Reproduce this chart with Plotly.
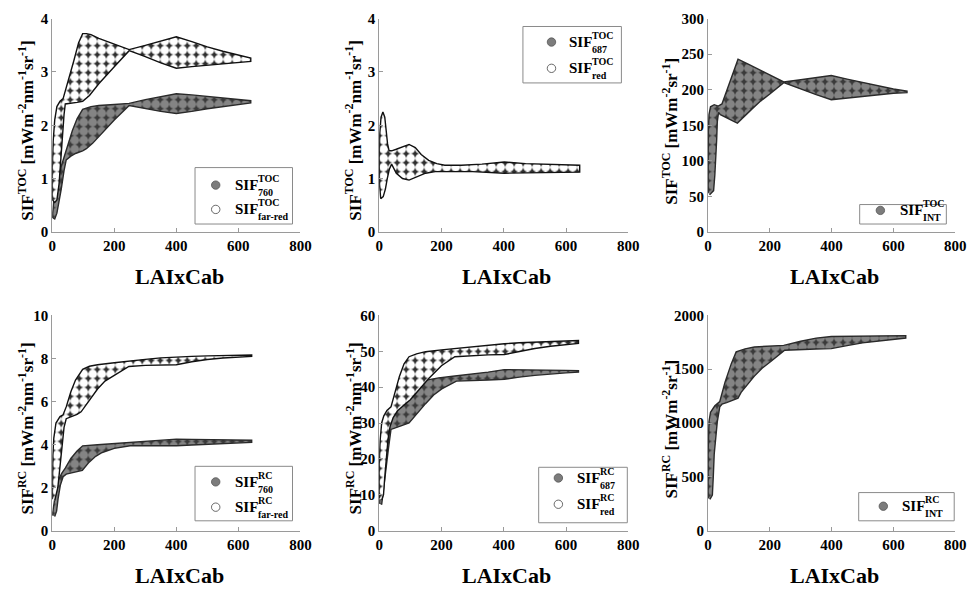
import plotly.graph_objects as go

W, H = 979, 594

# ---------------- data ----------------
x_ticks = [0, 200, 400, 600, 800]

# Panel 1: SIF TOC, 760 (gray) and far-red (white)
p1_760_up_x = [0, 2, 6, 12, 20, 30, 38, 50, 65, 80, 98, 125, 150, 200, 248, 300, 350, 400, 450, 500, 550, 600, 640]
p1_760_up_y = [0.27, 0.45, 0.65, 0.85, 1.05, 1.25, 1.4, 1.62, 1.9, 2.12, 2.3, 2.35, 2.37, 2.39, 2.41, 2.48, 2.54, 2.59, 2.57, 2.54, 2.51, 2.48, 2.46]
p1_760_lo_x = [0, 8, 15, 22, 29, 38, 45, 60, 75, 98, 110, 130, 160, 200, 248, 300, 350, 400, 450, 500, 550, 600, 640]
p1_760_lo_y = [0.27, 0.24, 0.35, 0.55, 0.8, 1.15, 1.35, 1.42, 1.47, 1.52, 1.56, 1.66, 1.84, 2.1, 2.37, 2.32, 2.26, 2.22, 2.26, 2.31, 2.35, 2.39, 2.42]
p1_fr_up_x = [0, 0, 3, 8, 15, 25, 35, 45, 55, 70, 85, 98, 110, 125, 150, 200, 248, 300, 350, 400, 450, 500, 550, 600, 640]
p1_fr_up_y = [0.6, 1.2, 1.7, 2.1, 2.35, 2.45, 2.5, 2.7, 2.92, 3.22, 3.55, 3.72, 3.72, 3.7, 3.63, 3.52, 3.42, 3.5, 3.58, 3.66, 3.57, 3.47, 3.39, 3.31, 3.26]
p1_fr_lo_x = [0, 8, 15, 22, 28, 33, 38, 42, 60, 80, 98, 120, 150, 200, 248, 300, 350, 400, 450, 500, 550, 600, 640]
p1_fr_lo_y = [0.6, 0.55, 0.6, 0.9, 1.3, 1.8, 2.2, 2.4, 2.42, 2.43, 2.45, 2.56, 2.78, 3.1, 3.4, 3.29, 3.17, 3.07, 3.1, 3.13, 3.16, 3.18, 3.2]

# Panel 2: SIF TOC, 687 (gray, hidden under red) and red (white)
p2_red_up_x = [5, 1, 0, 2, 6, 12, 18, 22, 27, 32, 40, 55, 75, 96, 116, 135, 159, 185, 211, 264, 330, 402, 470, 550, 644]
p2_red_up_y = [0.62, 0.9, 1.4, 1.85, 2.15, 2.25, 2.15, 1.9, 1.65, 1.52, 1.52, 1.55, 1.6, 1.64, 1.58, 1.45, 1.34, 1.28, 1.25, 1.25, 1.27, 1.31, 1.28, 1.26, 1.25]
p2_red_lo_x = [5, 13, 20, 26, 33, 40, 55, 75, 96, 120, 149, 180, 211, 300, 402, 500, 644]
p2_red_lo_y = [0.62, 0.66, 0.8, 1.0, 1.18, 1.27, 1.1, 1.0, 0.97, 1.03, 1.1, 1.13, 1.14, 1.13, 1.1, 1.11, 1.12]

# Panel 3: SIF TOC, INT (gray)
p3_int_up_x = [0, 0, 1, 3, 8, 20, 33, 45, 60, 75, 97, 130, 170, 210, 245, 300, 350, 399, 450, 500, 550, 600, 644]
p3_int_up_y = [55, 100, 140, 165, 176, 179, 177, 180, 198, 216, 243, 236, 227, 219, 211, 214, 217, 220, 215, 210, 205, 201, 198]
p3_int_lo_x = [5, 18, 22, 25, 28, 30, 34, 40, 60, 80, 95, 110, 140, 170, 200, 245, 300, 350, 399, 450, 500, 550, 600, 644]
p3_int_lo_y = [52, 58, 80, 100, 130, 155, 168, 165, 160, 156, 153, 160, 172, 184, 194, 210, 201, 193, 186, 189, 191, 193, 195, 196]

# Panel 4: SIF RC, 760 (gray) and far-red (white)
p4_760_up_x = [0, 3, 8, 14, 20, 30, 42, 60, 80, 98, 146, 200, 247, 300, 350, 400, 450, 500, 550, 600, 643]
p4_760_up_y = [0.7, 1.0, 1.6, 2.05, 2.35, 2.65, 2.9, 3.35, 3.7, 3.94, 3.99, 4.05, 4.1, 4.16, 4.21, 4.25, 4.24, 4.23, 4.22, 4.21, 4.2]
p4_760_lo_x = [8, 14, 19, 26, 35, 45, 70, 97, 119, 140, 161, 200, 251, 300, 350, 400, 450, 500, 550, 600, 643]
p4_760_lo_y = [0.65, 0.9, 1.5, 2.1, 2.5, 2.62, 2.7, 2.8, 3.18, 3.45, 3.63, 3.82, 3.94, 3.95, 3.95, 3.94, 3.98, 4.02, 4.05, 4.08, 4.1]
p4_fr_up_x = [0, 0, 2, 5, 12, 25, 35, 45, 60, 75, 98, 120, 146, 200, 247, 300, 350, 400, 450, 500, 550, 600, 643]
p4_fr_up_y = [1.45, 2.5, 3.5, 4.3, 5.0, 5.3, 5.38, 5.75, 6.45, 7.0, 7.5, 7.64, 7.71, 7.8, 7.86, 7.96, 8.03, 8.08, 8.1, 8.12, 8.14, 8.15, 8.16]
p4_fr_lo_x = [8, 18, 25, 32, 38, 45, 60, 80, 93, 109, 130, 146, 170, 199, 247, 300, 350, 400, 450, 500, 550, 600, 643]
p4_fr_lo_y = [1.4, 2.0, 3.0, 4.0, 4.8, 5.2, 5.3, 5.4, 5.52, 5.82, 6.25, 6.58, 6.95, 7.18, 7.63, 7.68, 7.7, 7.71, 7.85, 7.95, 8.02, 8.07, 8.1]

# Panel 5: SIF RC, 687 (gray) and red (white)
p5_687_up_x = [0, 3, 6, 10, 16, 25, 40, 60, 80, 100, 128, 160, 191, 243, 300, 350, 402, 450, 500, 550, 600, 640]
p5_687_up_y = [7.5, 9, 12, 18, 24, 28, 31, 35, 38.5, 40.5, 41.5, 42.1, 42.6, 43.1, 43.6, 44.2, 44.9, 44.9, 44.8, 44.8, 44.7, 44.6]
p5_687_lo_x = [8, 14, 22, 30, 38, 43, 70, 96, 106, 130, 149, 175, 201, 248, 300, 350, 402, 450, 500, 550, 600, 640]
p5_687_lo_y = [7.2, 10, 17, 23, 28.2, 28.5, 29.2, 30, 30.9, 33.5, 35.4, 37.8, 39.5, 41.7, 41.9, 42.0, 42.2, 42.8, 43.3, 43.7, 44.0, 44.2]
p5_red_up_x = [0, 0, 3, 8, 15, 25, 38, 50, 65, 80, 96, 120, 149, 200, 243, 300, 350, 402, 450, 500, 550, 600, 640]
p5_red_up_y = [9, 18, 25, 30, 32, 33.5, 34.5, 38.5, 43, 46.5, 48.5, 49.3, 49.9, 50.4, 50.8, 51.3, 51.7, 52.1, 52.4, 52.6, 52.8, 52.9, 53.0]
p5_red_lo_x = [8, 14, 18, 22, 28, 35, 45, 60, 80, 100, 130, 160, 200, 243, 300, 350, 402, 450, 500, 550, 600, 640]
p5_red_lo_y = [8.5, 10, 15, 20, 25, 29, 31.5, 33.5, 35, 36.5, 39.5, 42.5, 46, 48.5, 48.8, 49, 49.1, 50.0, 50.8, 51.4, 51.9, 52.2]

# Panel 6: SIF RC, INT (gray)
p6_int_up_x = [0, 0, 3, 8, 22, 38, 55, 75, 91, 120, 150, 200, 245, 300, 350, 399, 450, 500, 550, 600, 640]
p6_int_up_y = [300, 700, 1013, 1100, 1160, 1200, 1380, 1550, 1662, 1690, 1707, 1715, 1722, 1760, 1790, 1804, 1806, 1808, 1810, 1812, 1813]
p6_int_lo_x = [6, 14, 17, 20, 26, 30, 38, 45, 60, 80, 97, 107, 130, 150, 175, 203, 248, 300, 350, 399, 450, 500, 550, 600, 640]
p6_int_lo_y = [290, 330, 500, 712, 900, 1013, 1150, 1175, 1190, 1210, 1231, 1285, 1370, 1436, 1510, 1572, 1677, 1684, 1688, 1692, 1720, 1745, 1765, 1778, 1790]

y_ranges = [[0, 4], [0, 4], [0, 300], [0, 10], [0, 60], [0, 2000]]
y_dticks = [1, 1, 50, 2, 10, 500]
y_titles = [
    "SIF<sup>TOC</sup> [mWm<sup>-2</sup>nm<sup>-1</sup>sr<sup>-1</sup>]",
    "SIF<sup>TOC</sup> [mWm<sup>-2</sup>nm<sup>-1</sup>sr<sup>-1</sup>]",
    "SIF<sup>TOC</sup> [mWm<sup>-2</sup>sr<sup>-1</sup>]",
    "SIF<sup>RC</sup> [mWm<sup>-2</sup>nm<sup>-1</sup>sr<sup>-1</sup>]",
    "SIF<sup>RC</sup> [mWm<sup>-2</sup>nm<sup>-1</sup>sr<sup>-1</sup>]",
    "SIF<sup>RC</sup> [mWm<sup>-2</sup>sr<sup>-1</sup>]",
]
x_title = "LAIxCab"

# ---------------- layout geometry (pixels) ----------------
col_px = [(49, 301), (381, 634), (715, 966)]
row_px = [(11, 230), (316, 537)]
ytitle_x = [22, 355, 676]

FONT = "Liberation Serif"
GRAY = "#7c7c7c"
GRAY_EDGE = "#2a2a2a"


def px(x):
    return x / W


def py(y):
    return 1 - y / H


fig = go.Figure()
layout = dict(
    width=W, height=H, margin=dict(l=0, r=0, t=0, b=0),
    paper_bgcolor="white", plot_bgcolor="white", showlegend=False,
    font=dict(family=FONT, color="black"),
)
annotations = []
shapes = []

for i in range(6):
    r, c = divmod(i, 3)
    n = "" if i == 0 else str(i + 1)
    x0, x1 = col_px[c]
    yt, yb = row_px[r]
    axfont = dict(family=FONT, size=15, color="black", weight="bold")
    layout["xaxis" + n] = dict(
        domain=[px(x0), px(x1)], anchor="y" + n, range=[0, 800], tickvals=x_ticks,
        showline=True, linecolor="#9a9a9a", linewidth=1, ticks="inside", ticklen=4,
        tickcolor="#9a9a9a", showgrid=False, zeroline=False, tickfont=axfont,
    )
    layout["yaxis" + n] = dict(
        domain=[py(yb), py(yt)], anchor="x" + n, range=y_ranges[i], dtick=y_dticks[i],
        showline=True, linecolor="#9a9a9a", linewidth=1, ticks="inside", ticklen=4,
        tickcolor="#9a9a9a", showgrid=False, zeroline=False, tickfont=axfont,
    )
    annotations.append(dict(
        text=x_title, xref="paper", yref="paper", x=px((x0 + x1) / 2 + 3), y=py(yb + 46),
        showarrow=False, xanchor="center", yanchor="middle",
        font=dict(family=FONT, size=22, color="black", weight="bold"),
    ))
    annotations.append(dict(
        text=y_titles[i], xref="paper", yref="paper", x=px(ytitle_x[c]), y=py((yt + yb) / 2 + 6),
        showarrow=False, textangle=-90, xanchor="center", yanchor="middle",
        font=dict(family=FONT, size=17, color="black", weight="bold"),
    ))


def band(i, ux, uy, lx, ly, kind):
    n = "" if i == 0 else str(i + 1)
    xs = list(ux) + list(lx)[::-1]
    ys = list(uy) + list(ly)[::-1]
    if kind == "gray":
        pat = dict(shape=".", bgcolor="#3a3a3a", fgcolor="#848484", fgopacity=1,
                   size=9, solidity=0.75, fillmode="replace")
        mc, ec = GRAY, GRAY_EDGE
    else:
        pat = dict(shape=".", bgcolor="#2e2e2e", fgcolor="#ffffff", fgopacity=1,
                   size=9, solidity=0.75, fillmode="replace")
        mc, ec = "white", "#111111"
    fig.add_trace(go.Scatter(
        x=xs, y=ys, mode="lines", fill="toself", fillcolor=mc, fillpattern=pat,
        line=dict(color=ec, width=1.4), hoverinfo="skip", xaxis="x" + n, yaxis="y" + n,
    ))


band(0, p1_760_up_x, p1_760_up_y, p1_760_lo_x, p1_760_lo_y, "gray")
band(0, p1_fr_up_x, p1_fr_up_y, p1_fr_lo_x, p1_fr_lo_y, "white")
band(1, p2_red_up_x, p2_red_up_y, p2_red_lo_x, p2_red_lo_y, "white")
band(2, p3_int_up_x, p3_int_up_y, p3_int_lo_x, p3_int_lo_y, "gray")
band(3, p4_760_up_x, p4_760_up_y, p4_760_lo_x, p4_760_lo_y, "gray")
band(3, p4_fr_up_x, p4_fr_up_y, p4_fr_lo_x, p4_fr_lo_y, "white")
band(4, p5_687_up_x, p5_687_up_y, p5_687_lo_x, p5_687_lo_y, "gray")
band(4, p5_red_up_x, p5_red_up_y, p5_red_lo_x, p5_red_lo_y, "white")
band(5, p6_int_up_x, p6_int_up_y, p6_int_lo_x, p6_int_lo_y, "gray")

# ---------------- legends (manual, to stack super/subscripts) ----------------
legends = [
    ((194, 164, 293, 222), 233, [(215, 182, "gray", "TOC", "760"), (215, 207, "white", "TOC", "far-red")]),
    ((527, 19, 627, 77), 572, [(556, 35, "gray", "TOC", "687"), (556, 62, "white", "TOC", "red")]),
    ((869, 202, 957, 222), 908, [(890, 208, "gray", "TOC", "INT")]),
    ((194, 471, 293, 527), 233, [(215, 487, "gray", "RC", "760"), (215, 513, "white", "RC", "far-red")]),
    ((543, 472, 633, 529), 580, [(563, 483, "gray", "RC", "687"), (563, 510, "white", "RC", "red")]),
    ((868, 498, 965, 527), 910, [(893, 512, "gray", "RC", "INT")]),
]
for (bx0, by0, bx1, by1), tx, items in legends:
    shapes.append(dict(type="rect", xref="paper", yref="paper", x0=px(bx0), x1=px(bx1),
                       y0=py(by1), y1=py(by0), line=dict(color="#8a8a8a", width=1),
                       fillcolor="white", layer="above"))
    for mx, my, kind, sup, sub in items:
        rr = 4.3
        shapes.append(dict(type="circle", xref="paper", yref="paper",
                           x0=px(mx - rr), x1=px(mx + rr), y0=py(my + rr), y1=py(my - rr),
                           fillcolor=GRAY if kind == "gray" else "white",
                           line=dict(color="#555555" if kind == "gray" else "#444444", width=0.8),
                           layer="above"))
        annotations.append(dict(text="SIF", xref="paper", yref="paper", x=px(tx), y=py(my),
                                showarrow=False, xanchor="left", yanchor="middle",
                                font=dict(family=FONT, size=15, color="black", weight="bold")))
        annotations.append(dict(text=sup, xref="paper", yref="paper", x=px(tx + 23), y=py(my - 7),
                                showarrow=False, xanchor="left", yanchor="middle",
                                font=dict(family=FONT, size=10, color="black", weight="bold")))
        annotations.append(dict(text=sub, xref="paper", yref="paper", x=px(tx + 23), y=py(my + 7.5),
                                showarrow=False, xanchor="left", yanchor="middle",
                                font=dict(family=FONT, size=10, color="black", weight="bold")))

layout["annotations"] = annotations
layout["shapes"] = shapes
fig.update_layout(**layout)
fig.write_html("out.html")
